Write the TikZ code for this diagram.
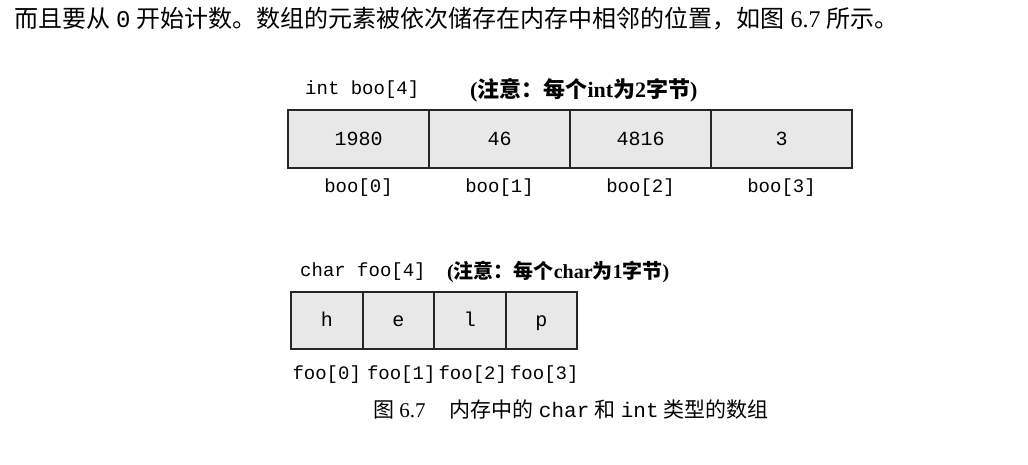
\documentclass[tikz,border=0pt]{standalone}
\usepackage{fontspec}
\setmainfont{Liberation Serif}
\setmonofont{Liberation Mono}
\newfontfamily\cjk{Noto Sans CJK SC}
\usetikzlibrary{positioning}

\begin{document}
\begin{tikzpicture}[x=1pt, y=-1pt, node distance=6pt,
    cell/.style={draw=black!85, line width=2pt, fill=gray!18, outer sep=0pt, minimum height=58pt,
        text height=12pt, text depth=0pt, font=\fontsize{20}{22}\selectfont\ttfamily},
    idx/.style={inner sep=0pt, font=\fontsize{19}{21}\selectfont\ttfamily},
    note/.style={inner sep=0pt, anchor=west, font=\fontsize{22}{24}\selectfont\bfseries}]
    \useasboundingbox (0,0) rectangle (1028,464);

    \node[inner sep=0pt, anchor=west, font=\fontsize{24}{26}\selectfont] (intro) at (14,19)
        {{\cjk 而且要从} {\ttfamily 0} {\cjk 开始计数。数组的元素被依次储存在内存中相邻的位置，如图} 6.7 {\cjk 所示。}};

    % int array
    \node[idx, anchor=west] (intname) at (305,90) {int boo[4]};
    \node[note] (intnote) at (470,90) {({\cjk 注意：每个}int{\cjk 为}2{\cjk 字节})};
    \node[cell, minimum width=141pt, anchor=north west] (boo0) at (288,110) {1980};
    \node[cell, minimum width=141pt, right=0pt of boo0] (boo1) {46};
    \node[cell, minimum width=141pt, right=0pt of boo1] (boo2) {4816};
    \node[cell, minimum width=141pt, right=0pt of boo2] (boo3) {3};
    \node[idx, below=11pt of boo0] (boo0lbl) {boo[0]};
    \node[idx, below=11pt of boo1] (boo1lbl) {boo[1]};
    \node[idx, below=11pt of boo2] (boo2lbl) {boo[2]};
    \node[idx, below=11pt of boo3] (boo3lbl) {boo[3]};

    % char array
    \node[idx, anchor=west] (charname) at (300,272) {char foo[4]};
    \node[note, font=\fontsize{20}{22}\selectfont\bfseries] (charnote) at (447,272) {({\cjk 注意：每个}char{\cjk 为}1{\cjk 字节})};
    \node[cell, minimum width=71.5pt, minimum height=57pt, anchor=north west] (foo0) at (291,292) {h};
    \node[cell, minimum width=71.5pt, minimum height=57pt, right=0pt of foo0] (foo1) {e};
    \node[cell, minimum width=71.5pt, minimum height=57pt, right=0pt of foo1] (foo2) {l};
    \node[cell, minimum width=71.5pt, minimum height=57pt, right=0pt of foo2] (foo3) {p};
    \node[idx, below=17pt of foo0] (foo0lbl) {foo[0]};
    \node[idx, below=17pt of foo1, xshift=3pt] (foo1lbl) {foo[1]};
    \node[idx, below=17pt of foo2, xshift=3pt] (foo2lbl) {foo[2]};
    \node[idx, below=17pt of foo3, xshift=3pt] (foo3lbl) {foo[3]};

    \node[inner sep=0pt, anchor=west, font=\fontsize{21}{23}\selectfont] (caption) at (373,410)
        {{\cjk 图} 6.7\hspace{24pt}{\cjk 内存中的} {\ttfamily char} {\cjk 和} {\ttfamily int} {\cjk 类型的数组}};
\end{tikzpicture}
\end{document}
